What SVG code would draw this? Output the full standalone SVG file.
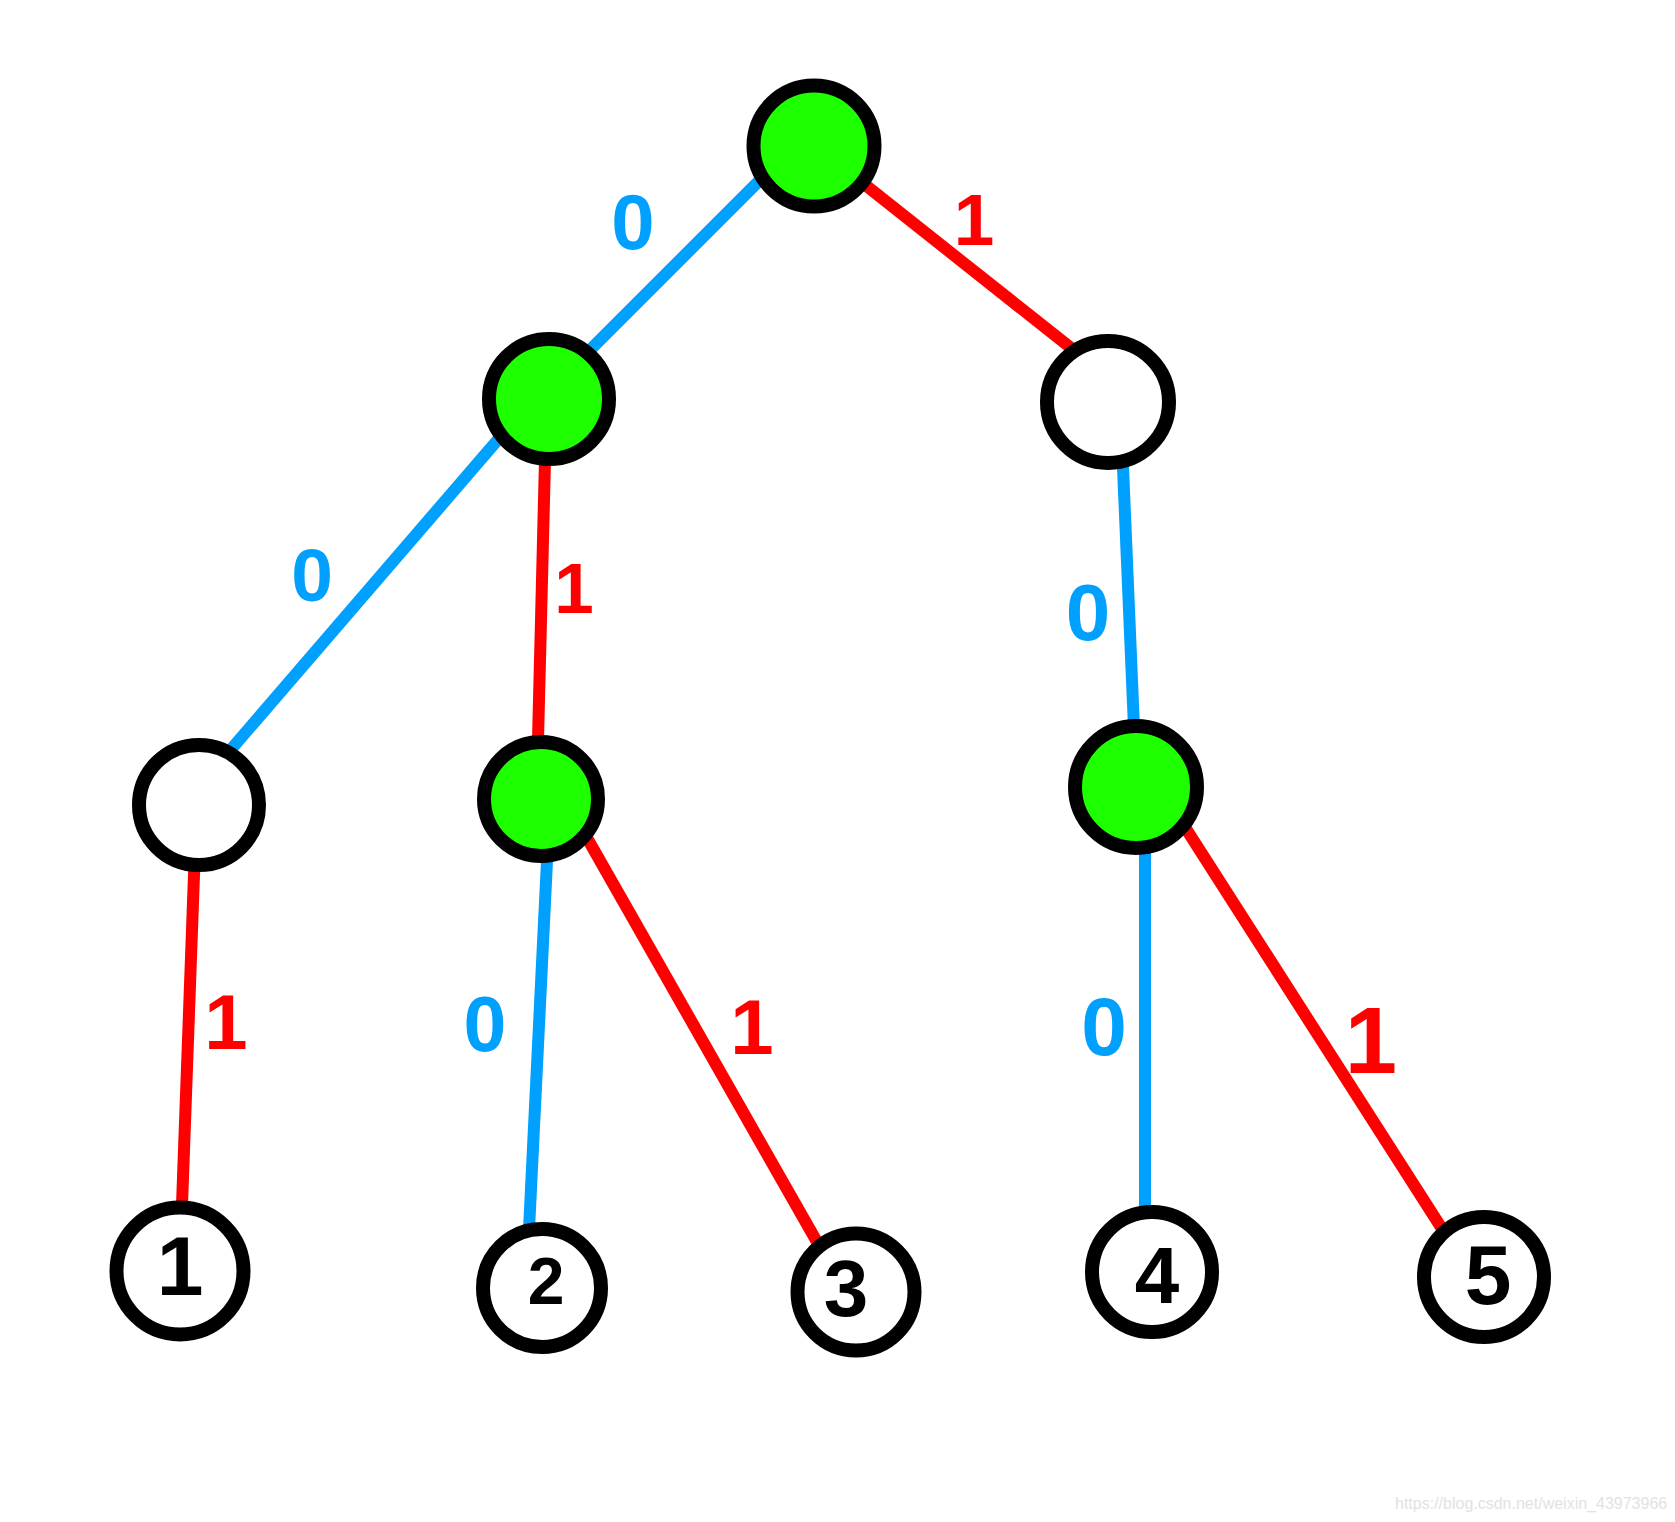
<svg xmlns="http://www.w3.org/2000/svg" width="1675" height="1522" viewBox="0 0 1675 1522">
<style>
.e{stroke-width:12;fill:none;stroke-linecap:butt}
.b{stroke:#00a0ff}
.r{stroke:#ff0000}
.n{stroke:#000;stroke-width:14}
.g{fill:#1eff00}
.w{fill:#fff}
.lb{font-family:"Liberation Sans",Arial,sans-serif;font-weight:bold;text-anchor:middle}
.lz{fill:#00a0ff}
.lo{fill:#ff0000}
.d{font-family:"Liberation Sans",Arial,sans-serif;font-weight:bold;text-anchor:middle;fill:#000}
.wm{font-family:"Liberation Sans",Arial,sans-serif;font-size:16px;fill:#e2e2e2}
</style>
<rect width="1675" height="1522" fill="#fff"/>
<g id="connectors">
<line class="e b" x1="800" y1="140" x2="560" y2="380"/>
<line class="e r" x1="830" y1="157" x2="1095" y2="367"/>
<line class="e b" x1="520" y1="414" x2="215" y2="768"/>
<line class="e r" x1="546" y1="420" x2="537" y2="780"/>
<line class="e b" x1="1121" y1="420" x2="1136" y2="775"/>
<line class="e r" x1="196" y1="820" x2="180" y2="1260"/>
<line class="e b" x1="549" y1="820" x2="528" y2="1250"/>
<line class="e r" x1="570" y1="808" x2="833" y2="1270"/>
<line class="e b" x1="1145" y1="820" x2="1145" y2="1250"/>
<line class="e r" x1="1174" y1="810" x2="1462" y2="1260"/>
</g>
<g id="edge-labels">
<text class="lb lz" x="633" y="249" font-size="78">0</text>
<text class="lb lo" x="974" y="245" font-size="73">1</text>
<text class="lb lz" x="312" y="601" font-size="75">0</text>
<text class="lb lo" x="574" y="613" font-size="71">1</text>
<text class="lb lz" x="1088" y="640" font-size="80">0</text>
<text class="lb lo" x="226" y="1049" font-size="78">1</text>
<text class="lb lz" x="485" y="1051" font-size="77">0</text>
<text class="lb lo" x="752" y="1054" font-size="78">1</text>
<text class="lb lz" x="1104" y="1055" font-size="82">0</text>
<text class="lb lo" x="1371" y="1073" font-size="94">1</text>
</g>
<g id="node-root"><circle class="n g" cx="814" cy="146" r="60.5"/></g>
<g id="node-0"><circle class="n g" cx="549" cy="399" r="60"/></g>
<g id="node-1"><circle class="n w" cx="1108" cy="402" r="61"/></g>
<g id="node-00"><circle class="n w" cx="199" cy="805" r="60"/></g>
<g id="node-01"><circle class="n g" cx="541" cy="799" r="57"/></g>
<g id="node-10"><circle class="n g" cx="1136" cy="787" r="61"/></g>
<g id="leaf-1"><circle class="n w" cx="180" cy="1271" r="63.5"/><text class="d" x="180" y="1295" font-size="84">1</text></g>
<g id="leaf-2"><circle class="n w" cx="542" cy="1288" r="59"/><text class="d" x="546" y="1304" font-size="66">2</text></g>
<g id="leaf-3"><circle class="n w" cx="856" cy="1292" r="58.5"/><text class="d" x="846" y="1316" font-size="80">3</text></g>
<g id="leaf-4"><circle class="n w" cx="1152" cy="1272" r="60"/><text class="d" x="1157" y="1303" font-size="80">4</text></g>
<g id="leaf-5"><circle class="n w" cx="1484" cy="1277" r="60"/><text class="d" x="1488" y="1304" font-size="84">5</text></g>
<text class="wm" x="1395" y="1509">https://blog.csdn.net/weixin_43973966</text>
</svg>
